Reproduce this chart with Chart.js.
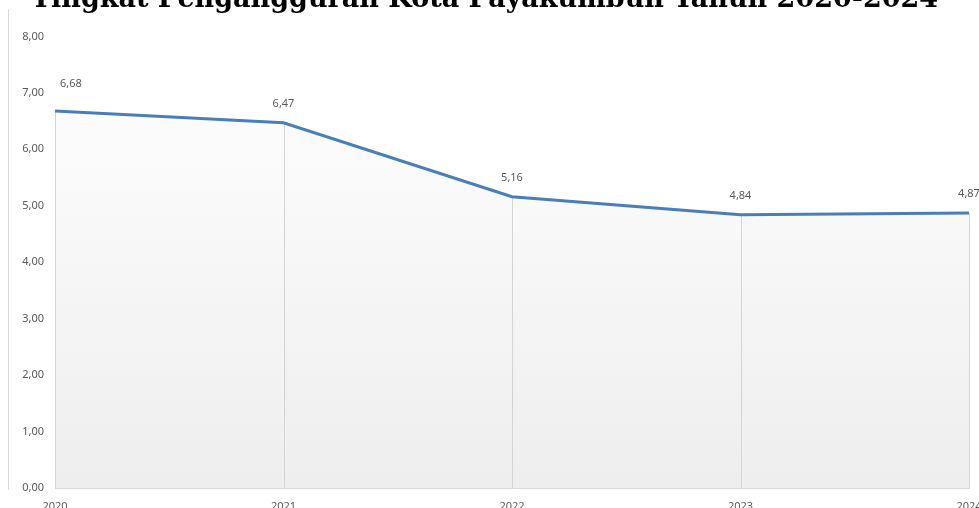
<!DOCTYPE html>
<html>
<head>
<meta charset="utf-8">
<script src="https://cdn.jsdelivr.net/npm/chart.js@4.4.1/dist/chart.umd.min.js"></script>
<style>
  html, body { margin: 0; padding: 0; background: #fff; overflow: hidden; width: 979px; height: 508px; }
  #frame { position: absolute; left: 8px; top: 9px; height: 481px; border-left: 1px solid #d9d9d9; }
  #wrap { position: absolute; left: 0; top: -40px; width: 1000px; height: 560px; }
</style>
</head>
<body>
<div id="frame"></div>
<div id="wrap"><canvas id="unemploymentChart" width="1000" height="560"></canvas></div>
<script>
const years = ['2020', '2021', '2022', '2023', '2024'];
const rates = [6.68, 6.47, 5.16, 4.84, 4.87];
const yMin = 0;
const yMax = 8;
const yStep = 1;
const chartTitle = 'Tingkat Pengangguran Kota Payakumbuh Tahun 2020-2024';

const fmt = v => Number(v).toFixed(2).replace('.', ',');

// drop lines from each point to the axis, drawn over the fill but under the line
const dropLines = {
    id: 'dropLines',
    beforeDatasetDraw(chart) {
        const ctx = chart.ctx;
        const meta = chart.getDatasetMeta(0);
        const bottom = chart.scales.y.getPixelForValue(0);
        ctx.save();
        ctx.strokeStyle = '#d4d4d4';
        ctx.lineWidth = 1;
        meta.data.forEach(pt => {
            const x = Math.round(pt.x) + 0.5;
            ctx.beginPath();
            ctx.moveTo(x, pt.y);
            ctx.lineTo(x, bottom);
            ctx.stroke();
        });
        ctx.restore();
    }
};

const valueLabels = {
    id: 'valueLabels',
    afterDatasetsDraw(chart) {
        const ctx = chart.ctx;
        const meta = chart.getDatasetMeta(0);
        ctx.save();
        ctx.font = '11px "Noto Sans"';
        ctx.fillStyle = '#595959';
        ctx.textBaseline = 'middle';
        meta.data.forEach((pt, i) => {
            const txt = fmt(rates[i]);
            if (i === 0) {
                ctx.textAlign = 'left';
                ctx.fillText(txt, pt.x + 5, pt.y - 27);
            } else {
                ctx.textAlign = 'center';
                ctx.fillText(txt, pt.x, pt.y - 19);
            }
        });
        ctx.restore();
    }
};

const ctx = document.getElementById('unemploymentChart').getContext('2d');

const unemploymentChart = new Chart(ctx, {
    type: 'line',
    data: {
        labels: years,
        datasets: [{
            label: 'Tingkat Pengangguran',
            data: rates,
            borderColor: '#4a7ebb',
            borderWidth: 3,
            pointRadius: 0,
            tension: 0,
            fill: 'origin',
            backgroundColor: (c) => {
                const area = c.chart.chartArea;
                if (!area) return '#f6f6f6';
                const g = c.chart.ctx.createLinearGradient(0, area.top, 0, area.bottom);
                g.addColorStop(0, '#ffffff');
                g.addColorStop(1, '#eeeeee');
                return g;
            },
        }],
    },
    options: {
        responsive: false,
        devicePixelRatio: 1,
        animation: false,
        layout: {
            padding: { left: 0, right: 31, top: 0, bottom: 0 },
        },
        plugins: {
            legend: { display: false },
            tooltip: { enabled: false },
            title: {
                display: true,
                text: chartTitle,
                color: '#000000',
                font: { family: '"DejaVu Serif"', size: 27, weight: 'bold' },
                padding: { top: 24, bottom: 20 },
            },
        },
        scales: {
            x: {
                offset: false,
                grid: { display: false, drawTicks: false },
                border: { display: true, color: '#d9d9d9', width: 1 },
                ticks: {
                    color: '#595959',
                    font: { family: '"Noto Sans"', size: 11 },
                    padding: 12,
                    maxRotation: 0,
                },
                afterFit(scale) { scale.height = 32; },
            },
            y: {
                min: yMin,
                max: yMax,
                grid: { display: false, drawTicks: false },
                border: { display: false },
                ticks: {
                    stepSize: yStep,
                    color: '#595959',
                    font: { family: '"Noto Sans"', size: 11 },
                    padding: 11,
                    callback: v => fmt(v),
                },
                afterFit(scale) { scale.width = 55; },
            },
        },
    },
    plugins: [dropLines, valueLabels],
});
</script>
</body>
</html>
